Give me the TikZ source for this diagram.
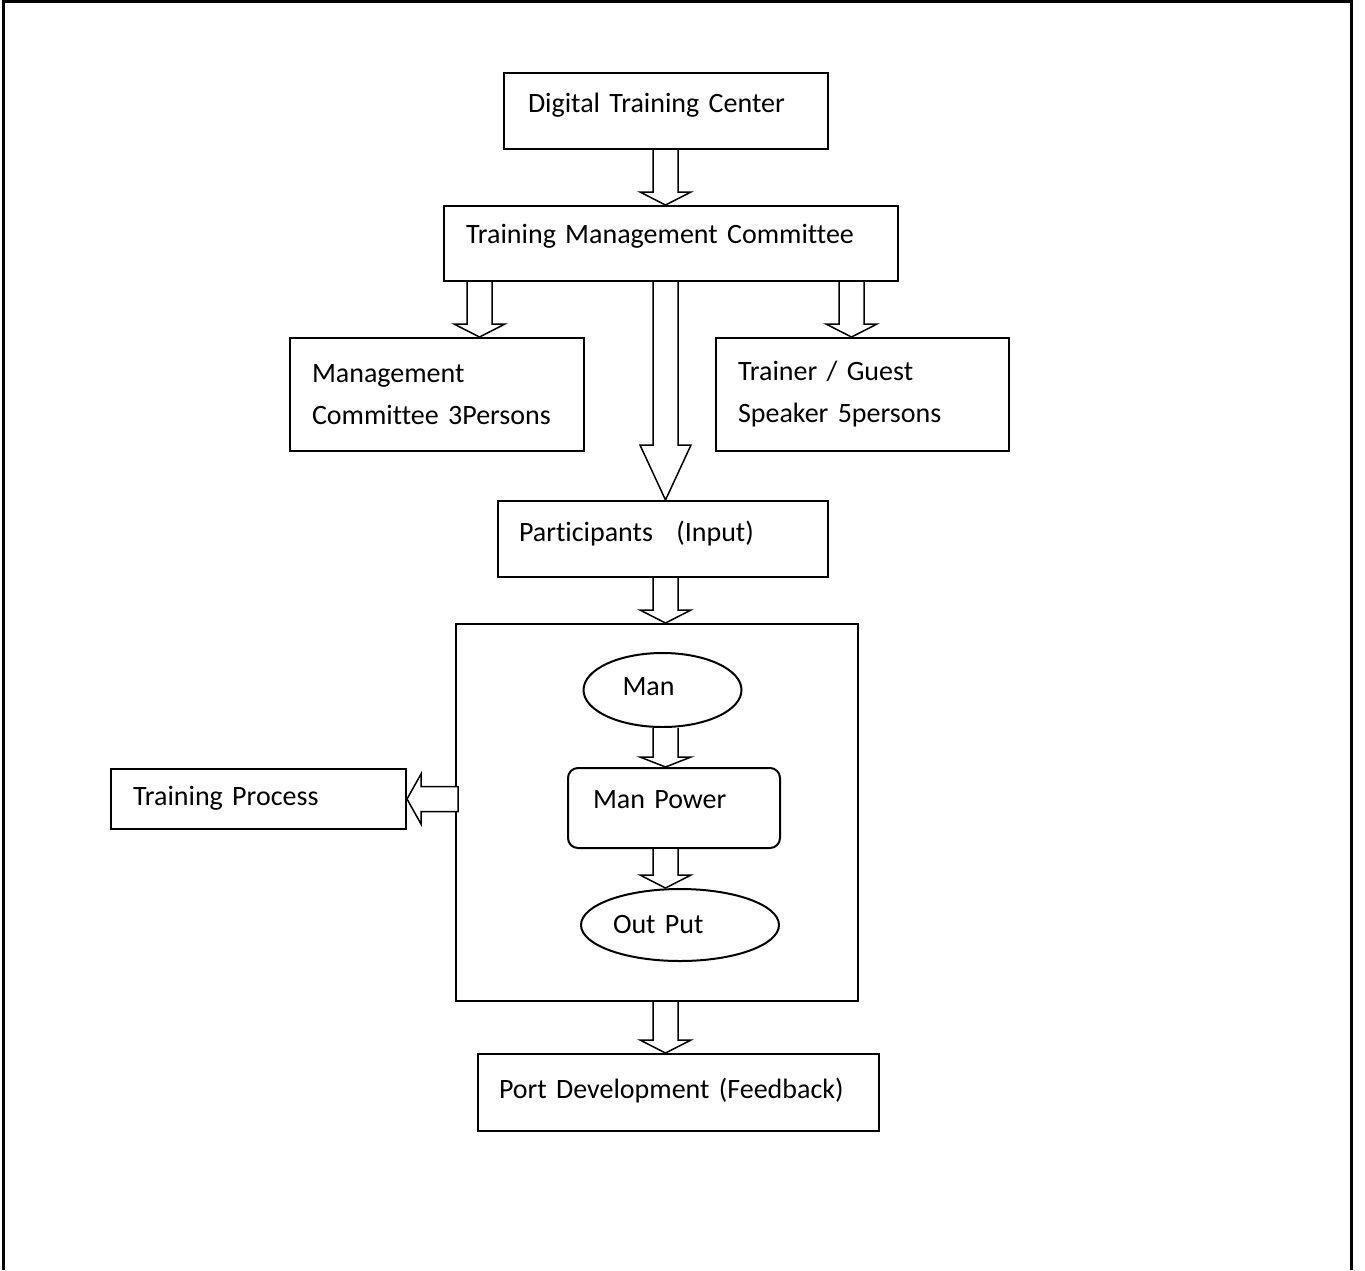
\documentclass[tikz,border=0pt]{standalone}
\usepackage{fontspec}
\setmainfont{Carlito}[Ligatures=NoCommon]
\usepackage{tikz}
\usetikzlibrary{shapes}
\usetikzlibrary{calc}

\tikzset{
    box/.style={draw, line width=1pt, anchor=north west, align=left, inner xsep=11pt, inner ysep=0pt, font=\fontsize{14}{21}\selectfont},
    oval/.style={draw, ellipse, line width=1pt, align=left, inner sep=0pt, font=\fontsize{14}{21}\selectfont},
    blockarrow/.style={draw, line width=0.75pt, fill=white, line join=miter}
}
% block arrow down: from #1 to tip #2, head length #3
\newcommand{\downblock}[3]{
    \path[blockarrow] let \p1=(#1), \p2=(#2) in
        (\x1-6.25pt,\y1) -- (\x1-6.25pt,\y2+#3) -- (\x1-12.75pt,\y2+#3) -- (\x1,\y2)
        -- (\x1+12.75pt,\y2+#3) -- (\x1+6.25pt,\y2+#3) -- (\x1+6.25pt,\y1);
}
% block arrow left: from #1 to tip #2
\newcommand{\leftblock}[2]{
    \path[blockarrow] let \p1=(#1), \p2=(#2) in
        (\x1,\y1+6.25pt) -- (\x2+7pt,\y1+6.25pt) -- (\x2+7pt,\y1+12.5pt) -- (\x2,\y1)
        -- (\x2+7pt,\y1-12.5pt) -- (\x2+7pt,\y1-6.25pt) -- (\x1,\y1-6.25pt) -- cycle;
}

\begin{document}
\begin{tikzpicture}[x=0.5pt,y=-0.5pt]
            \useasboundingbox (0,0) rectangle (1365,1270);
            %frame
            \draw[line width=1.5pt] (3,1270) -- (3,1.5) -- (1351,1.5) -- (1351,1270);
            %
            %boxes
            \node[box, inner xsep=12pt, text width=138pt, text height=19.5pt, text depth=18.5pt] (dtc) at (503,72) {Digital Training Center};
            \node[box, text width=205pt, text height=18.5pt, text depth=19pt] (tmc) at (443,205) {Training Management Committee};
            \node[box, text width=125pt, minimum height=56.5pt] (mgmt) at (289,337) {Management\\Committee 3Persons};
            \node[box, text width=124.5pt, minimum height=56.5pt] (trainer) at (715,337) {Trainer / Guest\\Speaker 5persons};
            \node[box, inner xsep=10.5pt, text width=144pt, text height=20pt, text depth=18pt] (part) at (497,500) {Participants\hspace{7pt} (Input)};
            %process
            \node[draw, line width=1pt, anchor=north west, minimum width=201pt, minimum height=188.5pt, inner sep=0pt] (proc) at (455,623) {};
            \node[oval, minimum width=79pt, minimum height=37pt, text width=40pt, text height=10pt, text depth=5pt] (man) at (662.5,690) {Man};
            \node[box, rounded corners=5pt, inner xsep=12.5pt, text width=81pt, text height=20pt, text depth=20pt] (mpow) at (567,767) {Man Power};
            \node[oval, minimum width=99pt, minimum height=36pt, text width=67pt, text height=12pt, text depth=4pt] (out) at (680,925) {Out Put};
            \node[box, text width=125.5pt, text height=18pt, text depth=12pt] (tp) at (110,768) {Training Process};
            \node[box, inner xsep=10.5pt, text width=179.5pt, text height=22pt, text depth=16.5pt] (port) at (477,1053) {Port Development (Feedback)};
            %
            %arrows
            \downblock{665.5,0 |- dtc.south}{665.5,0 |- tmc.north}{6.5pt}
            \downblock{479.5,0 |- tmc.south}{479.5,0 |- mgmt.north}{6.5pt}
            \downblock{851.5,0 |- tmc.south}{851.5,0 |- trainer.north}{6.5pt}
            \downblock{665.5,0 |- tmc.south}{665.5,0 |- part.north}{27.5pt}
            \downblock{665.5,0 |- part.south}{665.5,0 |- proc.north}{6.5pt}
            \downblock{665.5,0 |- man.south}{665.5,0 |- mpow.north}{5pt}
            \downblock{665.5,0 |- mpow.south}{665.5,0 |- out.north}{6.5pt}
            \downblock{665.5,0 |- proc.south}{665.5,0 |- port.north}{6.5pt}
            \leftblock{$(proc.west |- tp.east)+(3,0)$}{tp.east}
            %
        \end{tikzpicture}
\end{document}
